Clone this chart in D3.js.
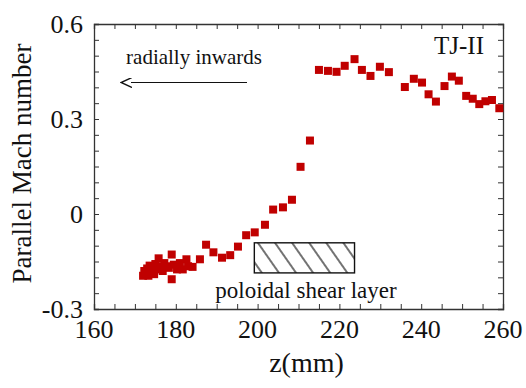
<!DOCTYPE html>
<html>
<head>
<meta charset="utf-8">
<script src="https://cdn.jsdelivr.net/npm/d3@7"></script>
<style>
  html, body { margin: 0; padding: 0; background: #fff; }
  svg text { font-family: "Liberation Serif", "Times New Roman", serif; fill: #111; }
</style>
</head>
<body>
<svg id="chart" width="526" height="388"></svg>
<script>
// Data
const zMM = [
  172.0, 172.3, 172.6, 173.0, 173.3, 173.6, 174.0, 174.3, 174.7, 175.0,
  175.3, 175.8, 176.3, 176.8, 177.2, 177.8, 178.3, 179.0, 179.5, 179.0,
  180.3, 181.0, 181.7, 182.6, 183.0, 184.1, 185.9, 187.4, 189.2, 191.3,
  193.3, 195.2, 197.2, 199.3, 201.8, 203.8, 206.2, 208.4, 210.5, 212.8,
  215.0, 217.2, 219.3, 221.3, 223.7, 225.5, 227.6, 229.9, 232.1, 236.0,
  238.2, 240.2, 241.8, 243.6, 245.7, 247.5, 249.2, 251.0, 252.6, 254.2,
  255.7, 257.3, 259.1
];
const mach = [
  -0.195, -0.180, -0.190, -0.172, -0.195, -0.163, -0.185, -0.170, -0.190, -0.158,
  -0.175, -0.140, -0.165, -0.180, -0.155, -0.165, -0.170, -0.128, -0.160, -0.206,
  -0.175, -0.155, -0.175, -0.143, -0.165, -0.167, -0.143, -0.097, -0.121, -0.138,
  -0.130, -0.103, -0.067, -0.058, -0.034, 0.014, 0.021, 0.045, 0.149, 0.232,
  0.455, 0.452, 0.449, 0.468, 0.489, 0.455, 0.436, 0.465, 0.448, 0.401,
  0.427, 0.415, 0.378, 0.355, 0.404, 0.434, 0.421, 0.373, 0.364, 0.347,
  0.356, 0.360, 0.334
];
const xTicks = [160, 180, 200, 220, 240, 260];
const yTicks = [-0.3, 0, 0.3, 0.6];
const yTickLabels = ['-0.3', '0', '0.3', '0.6'];
const shearLayer = { z: [199.2, 223.7], m: [-0.186, -0.091] };

const W = 526, H = 388;
const margin = { top: 24, right: 23, bottom: 79, left: 94 };

const svg = d3.select('#chart');
const x = d3.scaleLinear().domain([160, 260]).range([margin.left, W - margin.right]);
const y = d3.scaleLinear().domain([-0.3, 0.6]).range([H - margin.bottom, margin.top]);

// Hatch pattern
const defs = svg.append('defs');
defs.append('pattern')
  .attr('id', 'hatch').attr('patternUnits', 'userSpaceOnUse')
  .attr('width', 14).attr('height', 14)
  .attr('patternTransform', 'rotate(-35)')
  .append('line')
  .attr('x1', 2).attr('y1', 0).attr('x2', 2).attr('y2', 14)
  .attr('stroke', '#444').attr('stroke-width', 1.5);

defs.append('marker')
  .attr('id', 'arrow').attr('viewBox', '0 0 12 10')
  .attr('refX', 1).attr('refY', 5)
  .attr('markerWidth', 12).attr('markerHeight', 10)
  .attr('markerUnits', 'userSpaceOnUse')
  .attr('orient', 'auto')
  .append('path')
  .attr('d', 'M0,0 L11,5 L0,10')
  .attr('fill', 'none').attr('stroke', '#111').attr('stroke-width', 1.4);

// Axes: ticks inward on all four sides
const axisColor = '#333';
function minor(step, dom) { return d3.range(dom[0], dom[1] + 1e-9, step); }

const xMinor = minor(5, x.domain());
const yMinor = minor(0.05, y.domain());

const gAxes = svg.append('g');
gAxes.append('g').attr('transform', `translate(0,${y.range()[0]})`)
  .call(d3.axisBottom(x).tickValues(xMinor).tickSize(-5).tickFormat(''));
gAxes.append('g').attr('transform', `translate(0,${y.range()[1]})`)
  .call(d3.axisTop(x).tickValues(xMinor).tickSize(-5).tickFormat(''));
gAxes.append('g').attr('transform', `translate(${x.range()[0]},0)`)
  .call(d3.axisLeft(y).tickValues(yMinor).tickSize(-5).tickFormat(''));
gAxes.append('g').attr('transform', `translate(${x.range()[1]},0)`)
  .call(d3.axisRight(y).tickValues(yMinor).tickSize(-5).tickFormat(''));
gAxes.selectAll('path.domain').attr('stroke', axisColor).attr('stroke-width', 1.3);
gAxes.selectAll('.tick line').attr('stroke', axisColor).attr('stroke-width', 1);
gAxes.selectAll('.tick text').remove();

// Tick labels
svg.append('g').selectAll('text').data(xTicks).join('text')
  .attr('x', d => x(d)).attr('y', y.range()[0] + 29)
  .attr('text-anchor', 'middle').attr('font-size', 26)
  .text(d => d);
svg.append('g').selectAll('text').data(yTicks).join('text')
  .attr('x', x.range()[0] - 11).attr('y', d => y(d) + 8.5)
  .attr('text-anchor', 'end').attr('font-size', 26)
  .text((d, i) => yTickLabels[i]);

// Axis titles
svg.append('text')
  .attr('x', (x.range()[0] + x.range()[1]) / 2 + 8).attr('y', 372)
  .attr('text-anchor', 'middle').attr('font-size', 28)
  .text('z(mm)');
svg.append('text')
  .attr('transform', `translate(31,${(y.range()[0] + y.range()[1]) / 2 - 3}) rotate(-90)`)
  .attr('text-anchor', 'middle').attr('font-size', 27)
  .text('Parallel Mach number');

// Shear layer box
svg.append('rect')
  .attr('x', x(shearLayer.z[0])).attr('y', y(shearLayer.m[1]))
  .attr('width', x(shearLayer.z[1]) - x(shearLayer.z[0]))
  .attr('height', y(shearLayer.m[0]) - y(shearLayer.m[1]))
  .attr('fill', 'url(#hatch)').attr('stroke', '#111').attr('stroke-width', 1.4);
svg.append('text')
  .attr('x', 306).attr('y', 298)
  .attr('text-anchor', 'middle').attr('font-size', 23)
  .text('poloidal shear layer');

// Points
svg.append('g').selectAll('rect').data(zMM.map((z, i) => [z, mach[i]])).join('rect')
  .attr('x', d => x(d[0]) - 4).attr('y', d => y(d[1]) - 4)
  .attr('width', 8).attr('height', 8)
  .attr('fill', '#c00000');

// Annotations
svg.append('text')
  .attr('x', 194).attr('y', 64)
  .attr('text-anchor', 'middle').attr('font-size', 21)
  .text('radially inwards');
svg.append('line')
  .attr('x1', 247).attr('y1', 82.5).attr('x2', 131).attr('y2', 82.5)
  .attr('stroke', '#111').attr('stroke-width', 1.2)
  .attr('marker-end', 'url(#arrow)');
svg.append('text')
  .attr('x', 484).attr('y', 54)
  .attr('text-anchor', 'end').attr('font-size', 25)
  .text('TJ-II');
</script>
</body>
</html>
